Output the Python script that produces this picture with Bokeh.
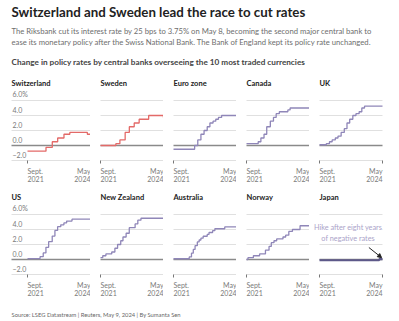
import pandas as pd
from bokeh.plotting import figure
from bokeh.layouts import column, gridplot
from bokeh.models import Range1d, Label, Arrow, NormalHead
from bokeh.embed import file_html
from bokeh.resources import INLINE

# ---------------- data ----------------
START = "2021-09-01"
END = "2024-05-09"

countries = ["Switzerland", "Sweden", "Euro zone", "Canada", "UK",
             "US", "New Zealand", "Australia", "Norway", "Japan"]

switzerland_dates = ["2021-09-01", "2022-06-16", "2022-09-22", "2022-12-15", "2023-03-23",
                     "2023-06-22", "2024-03-21", "2024-05-09"]
switzerland_rates = [-0.75, -0.25, 0.5, 1.0, 1.5, 1.75, 1.5, 1.5]

sweden_dates = ["2021-09-01", "2022-04-28", "2022-06-30", "2022-09-20", "2022-11-24",
                "2023-02-08", "2023-04-26", "2023-09-21", "2024-05-08", "2024-05-09"]
sweden_rates = [0.0, 0.25, 0.75, 1.75, 2.5, 3.0, 3.5, 4.0, 3.75, 3.75]

euro_dates = ["2021-09-01", "2022-07-27", "2022-09-14", "2022-11-02", "2022-12-21",
              "2023-02-08", "2023-03-22", "2023-05-10", "2023-06-21", "2023-08-02",
              "2023-09-20", "2024-05-09"]
euro_rates = [-0.5, 0.0, 0.75, 1.5, 2.0, 2.5, 3.0, 3.25, 3.5, 3.75, 4.0, 4.0]

canada_dates = ["2021-09-01", "2022-03-02", "2022-04-13", "2022-06-01", "2022-07-13",
                "2022-09-07", "2022-10-26", "2022-12-07", "2023-01-25", "2023-06-07",
                "2023-07-12", "2024-05-09"]
canada_rates = [0.25, 0.5, 1.0, 1.5, 2.5, 3.25, 3.75, 4.25, 4.5, 4.75, 5.0, 5.0]

uk_dates = ["2021-09-01", "2021-12-16", "2022-02-03", "2022-03-17", "2022-05-05",
            "2022-06-16", "2022-08-04", "2022-09-22", "2022-11-03", "2022-12-15",
            "2023-02-02", "2023-03-23", "2023-05-11", "2023-06-22", "2023-08-03", "2024-05-09"]
uk_rates = [0.1, 0.25, 0.5, 0.75, 1.0, 1.25, 1.75, 2.25, 3.0, 3.5, 4.0, 4.25, 4.5, 5.0, 5.25, 5.25]

us_dates = ["2021-09-01", "2022-03-16", "2022-05-04", "2022-06-15", "2022-07-27",
            "2022-09-21", "2022-11-02", "2022-12-14", "2023-02-01", "2023-03-22",
            "2023-05-03", "2023-07-26", "2024-05-09"]
us_rates = [0.125, 0.375, 0.875, 1.625, 2.375, 3.125, 3.875, 4.375, 4.625, 4.875, 5.125, 5.375, 5.375]

nz_dates = ["2021-09-01", "2021-10-06", "2021-11-24", "2022-02-23", "2022-04-13",
            "2022-05-25", "2022-07-13", "2022-08-17", "2022-10-05", "2022-11-23",
            "2023-02-22", "2023-04-05", "2023-05-24", "2024-05-09"]
nz_rates = [0.25, 0.5, 0.75, 1.0, 1.5, 2.0, 2.5, 3.0, 3.5, 4.25, 4.75, 5.25, 5.5, 5.5]

australia_dates = ["2021-09-01", "2022-05-04", "2022-06-08", "2022-07-06", "2022-08-03",
                   "2022-09-07", "2022-10-05", "2022-11-02", "2022-12-07", "2023-02-08",
                   "2023-03-08", "2023-05-03", "2023-06-07", "2023-11-08", "2024-05-09"]
australia_rates = [0.1, 0.35, 0.85, 1.35, 1.85, 2.35, 2.6, 2.85, 3.1, 3.35, 3.6, 3.85, 4.1, 4.35, 4.35]

norway_dates = ["2021-09-01", "2021-09-24", "2021-12-17", "2022-03-24", "2022-06-23",
                "2022-08-18", "2022-09-22", "2022-11-03", "2022-12-15", "2023-03-23",
                "2023-05-04", "2023-06-22", "2023-08-17", "2023-12-14", "2024-05-09"]
norway_rates = [0.0, 0.25, 0.5, 0.75, 1.25, 1.75, 2.25, 2.5, 2.75, 3.0, 3.25, 3.75, 4.0, 4.5, 4.5]

japan_dates = ["2021-09-01", "2024-03-19", "2024-05-09"]
japan_rates = [-0.1, 0.05, 0.05]

series_dates = [switzerland_dates, sweden_dates, euro_dates, canada_dates, uk_dates,
                us_dates, nz_dates, australia_dates, norway_dates, japan_dates]
series_rates = [switzerland_rates, sweden_rates, euro_rates, canada_rates, uk_rates,
                us_rates, nz_rates, australia_rates, norway_rates, japan_rates]

y_ticks = [-2.0, 0.0, 2.0, 4.0, 6.0]
y_tick_labels = ["\u22122.0", "0.0", "2.0", "4.0", "6.0%"]
x_tick_dates = [START, END]
x_tick_labels = [("Sept.", "2021"), ("May", "2024")]

title_text = "Switzerland and Sweden lead the race to cut rates"
subtitle_lines = ["The Riksbank cut its interest rate by 25 bps to 3.75% on May 8, becoming the second major central bank to",
                  "ease its monetary policy after the Swiss National Bank. The Bank of England kept its policy rate unchanged."]
chart_subtitle = "Change in policy rates by central banks overseeing the 10 most traded currencies"
source_text = "Source: LSEG Datastream | Reuters, May 9, 2024 | By Sumanta Sen"
japan_note = ["Hike after eight years", "of negative rates"]

# ---------------- style ----------------
FONT = "Lato"
RED = "#e36a68"
PURPLE = "#8f86b8"
JAPAN = "#5d5889"
GRID = "#e0e0e0"
ZERO = "#8a8a8a"
LABEL = "#7a7a7a"


def ms(d):
    return pd.Timestamp(d).value / 1e6


start_ms, end_ms = ms(START), ms(END)
span = end_ms - start_ms

FRAME_W = 63          # px of data area per panel
PX_PER_UNIT = 7.5     # px per percentage point
ABOVE_PX = 26         # px above the 6% line
BELOW_PX = 28         # px below the -2% line
PANEL_H = 114
Y_LO = min(y_ticks) - BELOW_PX / PX_PER_UNIT
Y_HI = max(y_ticks) + ABOVE_PX / PX_PER_UNIT


def make_panel(i):
    first_col = (i % 5 == 0)
    last_col = (i % 5 == 4)
    left_px = 27 if first_col else 10
    right_px = 12 if last_col else 0
    width = left_px + FRAME_W + right_px
    x0 = start_ms - span * left_px / FRAME_W
    x1 = end_ms + span * right_px / FRAME_W
    p = figure(width=width, height=PANEL_H,
               x_axis_type="datetime", x_axis_location=None, y_axis_location=None,
               x_range=Range1d(x0, x1), y_range=Range1d(Y_LO, Y_HI),
               min_border=0, outline_line_color=None, toolbar_location=None,
               output_backend="svg", background_fill_color="white",
               border_fill_color="white")
    p.grid.visible = False

    # gridlines (from the y tick values), spanning the data area
    g_start = x0 + span * 11 / FRAME_W if first_col else start_ms
    gl = [t for t in y_ticks if t != 0.0]
    p.segment(x0=[g_start] * len(gl), x1=[end_ms] * len(gl), y0=gl, y1=gl,
              line_color=GRID, line_width=1)
    # zero line
    p.segment(x0=[g_start], x1=[end_ms], y0=[0.0], y1=[0.0], line_color=ZERO, line_width=1.4)
    # x ticks
    tx = [ms(d) for d in x_tick_dates]
    p.segment(x0=tx, x1=tx, y0=[min(y_ticks)] * 2, y1=[min(y_ticks) - 3 / PX_PER_UNIT] * 2,
              line_color="#777777", line_width=1)

    color = RED if i < 2 else PURPLE
    lw = 1.3
    if i == 9:
        color, lw = JAPAN, 2.2
    xs = [pd.Timestamp(d) for d in series_dates[i]]
    p.step(xs, series_rates[i], mode="after", line_color=color, line_width=lw)

    # panel title
    p.add_layout(Label(x=g_start, y=max(y_ticks), y_offset=16.8, text=countries[i],
                       text_font=FONT, text_font_style="bold", text_font_size="7.5px",
                       text_color="#222222", text_baseline="alphabetic", text_align="left"))
    # y labels (first column only)
    if first_col:
        for v, t in zip(y_ticks, y_tick_labels):
            p.add_layout(Label(x=g_start, y=v, x_offset=1, y_offset=2.5, text=t,
                               text_font=FONT, text_font_size="7px", text_color=LABEL,
                               text_baseline="bottom", text_align="left"))
    # x tick labels
    for xv, (l1, l2), al in zip(tx, x_tick_labels, ["left", "right"]):
        p.add_layout(Label(x=xv, y=min(y_ticks), y_offset=-6.5, text=l1, text_font=FONT,
                           text_font_size="7px", text_color=LABEL,
                           text_baseline="top", text_align=al))
        p.add_layout(Label(x=xv, y=min(y_ticks), y_offset=-15.5, text=l2, text_font=FONT,
                           text_font_size="7px", text_color=LABEL,
                           text_baseline="top", text_align=al))
    if i == 9:
        note_x = ms("2022-11-20")
        for t, yv in zip(japan_note, [4.27, 2.8]):
            p.add_layout(Label(x=note_x, y=yv, text=t, text_font=FONT,
                               text_font_size="7.3px", text_color="#aaa3c9",
                               text_baseline="middle", text_align="center",
                               background_fill_color="white"))
        p.add_layout(Arrow(end=NormalHead(size=4, fill_color="#222222", line_color="#222222"),
                           x_start=ms("2023-10-10"), y_start=1.6,
                           x_end=ms("2024-04-25"), y_end=0.25,
                           line_color="#222222", line_width=1))
    return p


panels = [make_panel(i) for i in range(10)]
grid = gridplot(panels, ncols=5, toolbar_location=None)


def text_fig(h):
    f = figure(width=399, height=h, x_range=Range1d(0, 399), y_range=Range1d(h, 0),
               x_axis_location=None, y_axis_location=None,
               min_border=0, outline_line_color=None, toolbar_location=None,
               output_backend="svg")
    f.grid.visible = False
    return f


header = text_fig(74)
header.add_layout(Label(x=11, y=11, text=title_text, text_font=FONT, text_font_style="bold",
                        text_font_size="13.3px", text_color="#222222", text_baseline="alphabetic"))
for yy, line in zip([30.5, 41.5], subtitle_lines):
    header.add_layout(Label(x=11, y=yy, text=line, text_font=FONT, text_font_size="7.7px",
                            text_color="#6e6e6e", text_baseline="alphabetic"))
header.add_layout(Label(x=11, y=61.5, text=chart_subtitle, text_font=FONT, text_font_style="bold",
                        text_font_size="8.2px", text_color="#444444", text_baseline="alphabetic"))

footer = text_fig(19)
footer.add_layout(Label(x=11, y=11.5, text=source_text, text_font=FONT, text_font_size="5.8px",
                        text_color="#666666", text_baseline="alphabetic"))

layout = column(header, grid, footer)
open("out.html", "w").write(file_html(layout, INLINE))
